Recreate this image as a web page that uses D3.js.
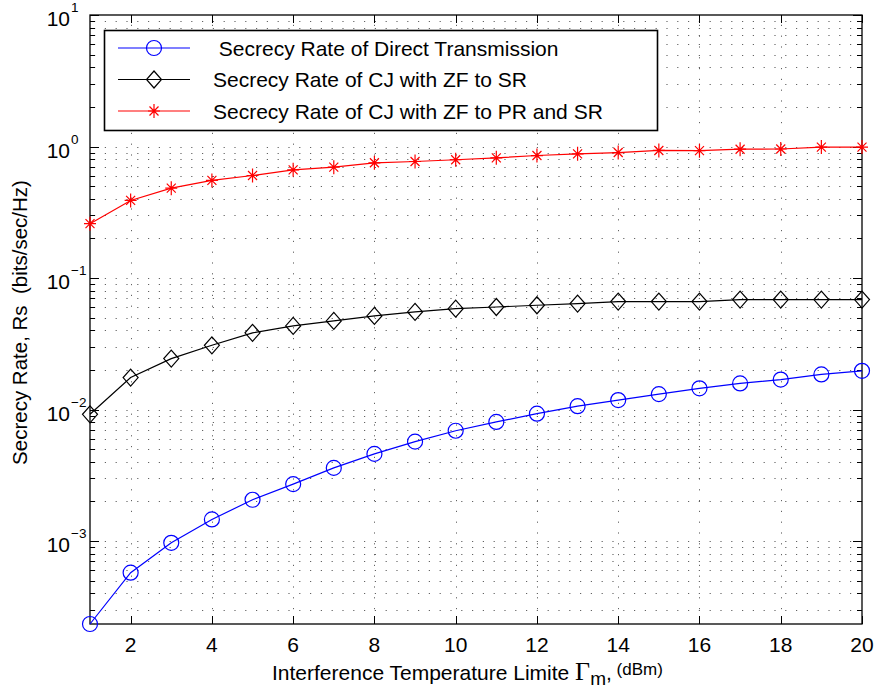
<!DOCTYPE html>
<html>
<head>
<meta charset="utf-8">
<script src="https://cdn.jsdelivr.net/npm/d3@7"></script>
<style>
  html, body { margin: 0; padding: 0; background: #fff; }
  svg { display: block; font-family: "Liberation Sans", Arial, Helvetica, sans-serif; }
</style>
</head>
<body>
<svg id="chart" width="877" height="693"></svg>
<script>
// Interference temperature limit (dBm)
const xValues = [1, 2, 3, 4, 5, 6, 7, 8, 9, 10, 11, 12, 13, 14, 15, 16, 17, 18, 19, 20];

// Secrecy rate (bits/sec/Hz) for each scheme
const directRate = [2.34e-4, 5.75e-4, 9.7e-4, 1.46e-3, 2.06e-3, 2.71e-3, 3.6e-3, 4.6e-3, 5.7e-3, 6.9e-3,
                    8.05e-3, 9.3e-3, 1.06e-2, 1.18e-2, 1.31e-2, 1.45e-2, 1.58e-2, 1.69e-2, 1.85e-2, 1.97e-2];
const cjSrRate = [0.0092, 0.0175, 0.0244, 0.0308, 0.0383, 0.0432, 0.0472, 0.0515, 0.0552, 0.0585,
                  0.0602, 0.0621, 0.0639, 0.0662, 0.0662, 0.0662, 0.0686, 0.0686, 0.0686, 0.0686];
const cjPrSrRate = [0.259, 0.389, 0.482, 0.552, 0.602, 0.665, 0.697, 0.752, 0.769, 0.793,
                    0.82, 0.854, 0.88, 0.90, 0.933, 0.93, 0.954, 0.957, 0.99, 0.99];

const seriesNames = [" Secrecy Rate of Direct Transmission",
                     "Secrecy Rate of CJ with ZF to SR",
                     "Secrecy Rate of CJ with ZF to PR and SR"];
const seriesColors = ["#0000ff", "#000000", "#ff0000"];
const seriesMarkers = ["circle", "diamond", "star"];

const xTicks = [2, 4, 6, 8, 10, 12, 14, 16, 18, 20];
const yExponents = [-3, -2, -1, 0, 1];
const xDomain = [1, 20];
const yDomain = [2.34e-4, 10];

const svg = d3.select("#chart");
const plot = { left: 90, right: 862, top: 15, bottom: 624 };
const fontSize = 21;

const x = d3.scaleLinear().domain(xDomain).range([plot.left, plot.right]);
const y = d3.scaleLog().domain(yDomain).range([plot.bottom, plot.top]);

// all log-ticks (1..9 × 10^k) inside the y range
const yAllTicks = [];
for (let e = -4; e <= 1; e++) {
  for (let m = 1; m <= 9; m++) {
    const v = m * Math.pow(10, e);
    if (v >= yDomain[0] && v <= yDomain[1]) yAllTicks.push({ v, major: m === 1 });
  }
}

// dotted grid
const grid = svg.append("g")
  .attr("stroke", "#222").attr("stroke-width", 1)
  .attr("stroke-dasharray", "1.2,9.6").attr("opacity", 0.7);
grid.selectAll("line.h").data(yAllTicks.filter(d => d.v < yDomain[1])).join("line")
  .attr("x1", plot.left + 4).attr("x2", plot.right)
  .attr("y1", d => Math.round(y(d.v)) + 0.5).attr("y2", d => Math.round(y(d.v)) + 0.5);
grid.selectAll("line.v").data(xTicks.filter(d => d < xDomain[1])).join("line")
  .attr("y1", plot.bottom - 4).attr("y2", plot.top)
  .attr("x1", d => Math.round(x(d)) + 0.5).attr("x2", d => Math.round(x(d)) + 0.5);

// tick marks (inside, on all four sides)
const ticks = svg.append("g").attr("stroke", "#000").attr("stroke-width", 1);
yAllTicks.forEach(d => {
  const yy = Math.round(y(d.v)) + 0.5;
  const len = d.major ? 9 : 5;
  ticks.append("line").attr("x1", plot.left).attr("x2", plot.left + len).attr("y1", yy).attr("y2", yy);
  ticks.append("line").attr("x1", plot.right).attr("x2", plot.right - len).attr("y1", yy).attr("y2", yy);
});
xTicks.forEach(d => {
  const xx = Math.round(x(d)) + 0.5;
  ticks.append("line").attr("x1", xx).attr("x2", xx).attr("y1", plot.bottom).attr("y2", plot.bottom - 8);
  ticks.append("line").attr("x1", xx).attr("x2", xx).attr("y1", plot.top).attr("y2", plot.top + 8);
});

// axes frame
svg.append("rect")
  .attr("x", plot.left).attr("y", plot.top)
  .attr("width", plot.right - plot.left).attr("height", plot.bottom - plot.top)
  .attr("fill", "none").attr("stroke", "#000").attr("stroke-width", 1.3);

// x tick labels
svg.append("g").selectAll("text").data(xTicks).join("text")
  .attr("x", d => x(d)).attr("y", plot.bottom + 28)
  .attr("text-anchor", "middle").attr("font-size", fontSize).attr("fill", "#000")
  .text(d => d);

// y tick labels as powers of ten
const yLab = svg.append("g").attr("fill", "#000");
yExponents.forEach(e => {
  const yy = y(Math.pow(10, e));
  yLab.append("text").attr("x", 70).attr("y", yy + 11)
    .attr("text-anchor", "end").attr("font-size", fontSize).text("10");
  yLab.append("text").attr("x", 71).attr("y", yy - 3)
    .attr("font-size", 13.5).text(e < 0 ? "\u2212" + Math.abs(e) : String(e));
});

// axis titles
const xt = svg.append("text").attr("x", 272).attr("y", 680).attr("font-size", fontSize).attr("fill", "#000");
xt.append("tspan").text("Interference Temperature Limite ");
xt.append("tspan").attr("font-family", "'Liberation Serif', 'Times New Roman', serif").attr("font-size", 26).text("\u0393");
xt.append("tspan").attr("font-size", 19).attr("dy", 5).text("m");
xt.append("tspan").attr("dy", -5).text(",");
xt.append("tspan").attr("font-size", 17).attr("dy", -5).text(" (dBm)");

svg.append("text")
  .attr("transform", "translate(27," + ((plot.top + plot.bottom) / 2 + 3) + ") rotate(-90)")
  .attr("text-anchor", "middle").attr("font-size", 20.5).attr("fill", "#000")
  .style("white-space", "pre")
  .text("Secrecy Rate, Rs  (bits/sec/Hz)");

// marker drawing
function drawMarker(g, type, color) {
  if (type === "circle") {
    g.append("circle").attr("r", 7.5).attr("fill", "none").attr("stroke", color).attr("stroke-width", 1.2);
  } else if (type === "diamond") {
    g.append("path").attr("d", "M0,-8.5L7.5,0L0,8.5L-7.5,0Z")
      .attr("fill", "none").attr("stroke", color).attr("stroke-width", 1.2);
  } else {
    g.append("path").attr("d", "M0,-7V7M-6,0H6M-4.5,-4.5L4.5,4.5M-4.5,4.5L4.5,-4.5")
      .attr("fill", "none").attr("stroke", color).attr("stroke-width", 1.2);
  }
}

// series
const allSeries = [directRate, cjSrRate, cjPrSrRate];
const line = d3.line().x((d, i) => x(xValues[i])).y(d => y(d));
allSeries.forEach((vals, k) => {
  const g = svg.append("g");
  g.append("path").datum(vals).attr("d", line)
    .attr("fill", "none").attr("stroke", seriesColors[k]).attr("stroke-width", 1.2);
  vals.forEach((v, i) => {
    const mg = g.append("g").attr("transform", "translate(" + x(xValues[i]) + "," + y(v) + ")");
    drawMarker(mg, seriesMarkers[k], seriesColors[k]);
  });
});

// legend
const legend = svg.append("g");
legend.append("rect").attr("x", 104.5).attr("y", 30.5).attr("width", 553).attr("height", 100)
  .attr("fill", "#fff").attr("stroke", "#000").attr("stroke-width", 1.6);
const rowY = [48, 79.5, 111];
seriesNames.forEach((name, k) => {
  const ry = rowY[k];
  legend.append("line").attr("x1", 118).attr("x2", 190).attr("y1", ry).attr("y2", ry)
    .attr("stroke", seriesColors[k]).attr("stroke-width", 1.2);
  const mg = legend.append("g").attr("transform", "translate(154," + ry + ")");
  drawMarker(mg, seriesMarkers[k], seriesColors[k]);
  legend.append("text").attr("x", 213).attr("y", ry + 7.5)
    .attr("font-size", fontSize).attr("fill", "#000").style("white-space", "pre").text(name);
});
</script>
</body>
</html>
